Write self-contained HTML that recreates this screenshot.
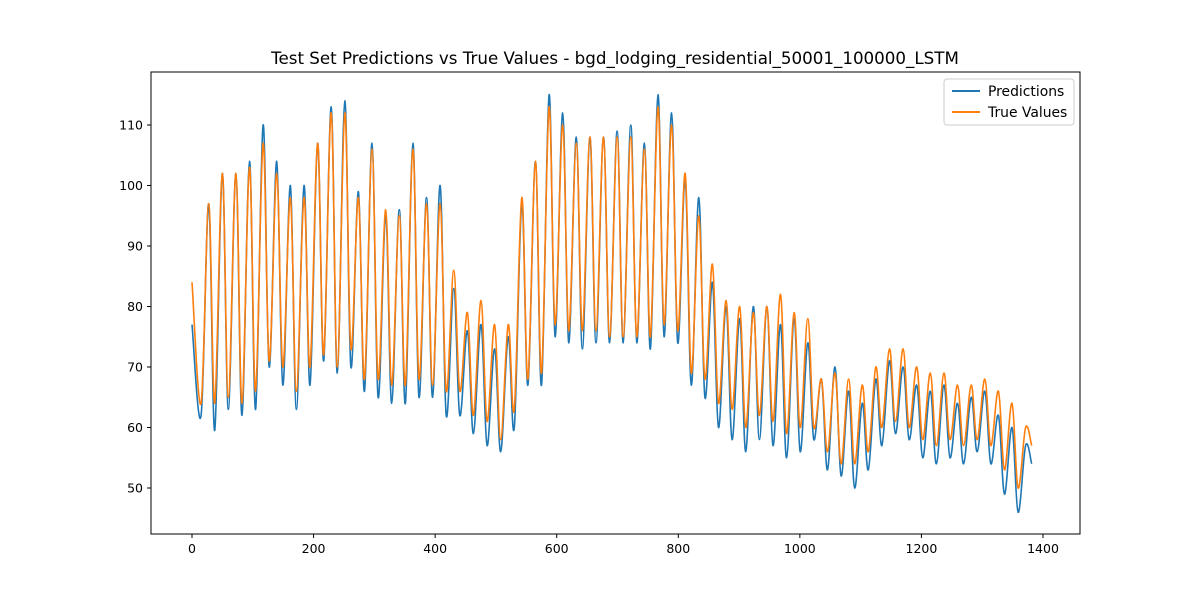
<!DOCTYPE html>
<html><head><meta charset="utf-8"><style>
body{margin:0;background:#fff;}
svg text{font-family:"DejaVu Sans","Liberation Sans",sans-serif;fill:#000;}
</style></head><body>
<svg id="chart" width="1200" height="600" xmlns="http://www.w3.org/2000/svg">
<rect width="1200" height="600" fill="#fff"/>
<text x="615" y="64" font-size="16.7" text-anchor="middle">Test Set Predictions vs True Values - bgd_lodging_residential_50001_100000_LSTM</text>
<g id="plot"></g>
<rect x="151" y="72" width="929" height="462" fill="none" stroke="#000" stroke-width="1"/>
<g id="axes"></g>
<g>
<rect x="944" y="79" width="130" height="46" fill="#fff" fill-opacity="0.8" stroke="#ccc" rx="3"/>
<line x1="952" y1="91" x2="980" y2="91" stroke="#1f77b4" stroke-width="2"/>
<text x="988" y="96" font-size="13.9">Predictions</text>
<line x1="952" y1="112" x2="980" y2="112" stroke="#ff7f0e" stroke-width="2"/>
<text x="988" y="117" font-size="13.9">True Values</text>
</g>
</svg>
<script>
const xTicks=[0,200,400,600,800,1000,1200,1400];
const yTicks=[50,60,70,80,90,100,110];
const predPeaks=[77,97,102,102,104,110,104,100,100,107,113,114,99,107,95,96,107,98,100,83,76,77,73,75,97,104,115,112,108,108,108,109,110,107,115,112,101,98,84,80,78,80,80,77,78,74,68,70,66,64,68,71,70,67,66,67,64,65,66,62,60,57];
const predTroughs=[62,59.5,63,62,63,70,67,63,67,71,69,70,66,65,64,64,65,65,62,62,59,57,56,60,67,67,75,74,73,74,74,74,74,73,75,74,67,65,60,58,56,58,57,55,56,58,53,52,50,53,57,59,58,55,54,55,54,56,54,49,46,54];
const truePeaks=[84,97,102,102,103,107,102,98,98,107,112,112,98,106,96,95,106,97,97,86,79,81,77,77,98,104,113,110,107,108,108,108,108,106,113,110,102,95,87,81,80,79,80,82,79,78,68,69,68,67,70,73,73,70,69,69,67,67,68,66,64,60];
const trueTroughs=[64,64,65,64,66,71,70,66,70,72,70,73,68,68,67,67,68,67,66,66,62,61,58,63,68,69,77,76,76,76,75,75,75,75,77,76,69,68,64,63,60,62,61,59,60,60,56,54,54,56,60,61,60,58,57,58,57,58,57,53,50,57];
const cycleLen=22.4;
const X=v=>192+v*851/1400;
const Y=v=>488-(v-50)*6.05;
const NS='http://www.w3.org/2000/svg';
const plot=document.getElementById('plot'),axes=document.getElementById('axes');
function mk(t,a,p){const e=document.createElementNS(NS,t);for(const k in a)e.setAttribute(k,a[k]);p.appendChild(e);return e;}
function series(peaks,troughs,color,name){
  let pts=[];
  for(let i=0;i<peaks.length;i++){
    const px=i===0?0:i*cycleLen+5;
    pts.push([X(px),Y(peaks[i])]);
    const tx=Math.min(i*cycleLen+15,1390);
    pts.push([X(tx),Y(troughs[i])]);
  }
  let d='M'+pts[0][0].toFixed(1)+','+pts[0][1].toFixed(1);
  for(let i=0;i<pts.length-1;i++){
    const p0=pts[Math.max(i-1,0)],p1=pts[i],p2=pts[i+1],p3=pts[Math.min(i+2,pts.length-1)];
    const k=0.35;
    const c1=[p1[0]+(p2[0]-p0[0])*k/2,p1[1]+(p2[1]-p0[1])*k/2];
    const c2=[p2[0]-(p3[0]-p1[0])*k/2,p2[1]-(p3[1]-p1[1])*k/2];
    d+=' C'+c1[0].toFixed(1)+','+c1[1].toFixed(1)+' '+c2[0].toFixed(1)+','+c2[1].toFixed(1)+' '+p2[0].toFixed(1)+','+p2[1].toFixed(1);
  }
  const l=mk('path',{d:d,fill:'none',stroke:color,'stroke-width':1.6,'stroke-linejoin':'round'},plot);
  
  
}
series(predPeaks,predTroughs,'#1f77b4','predictions-line');
series(truePeaks,trueTroughs,'#ff7f0e','true-values-line');
xTicks.forEach(v=>{
  mk('line',{x1:X(v),x2:X(v),y1:534,y2:538,stroke:'#000'},axes);
  const t=mk('text',{x:X(v),y:553,'font-size':12.5,'text-anchor':'middle'},axes);t.textContent=v;
  
  
});
yTicks.forEach(v=>{
  mk('line',{x1:147,x2:151,y1:Y(v),y2:Y(v),stroke:'#000'},axes);
  const t=mk('text',{x:143,y:Y(v)+4.5,'font-size':12.5,'text-anchor':'end'},axes);t.textContent=v;
  
  
});
</script>
</body></html>
